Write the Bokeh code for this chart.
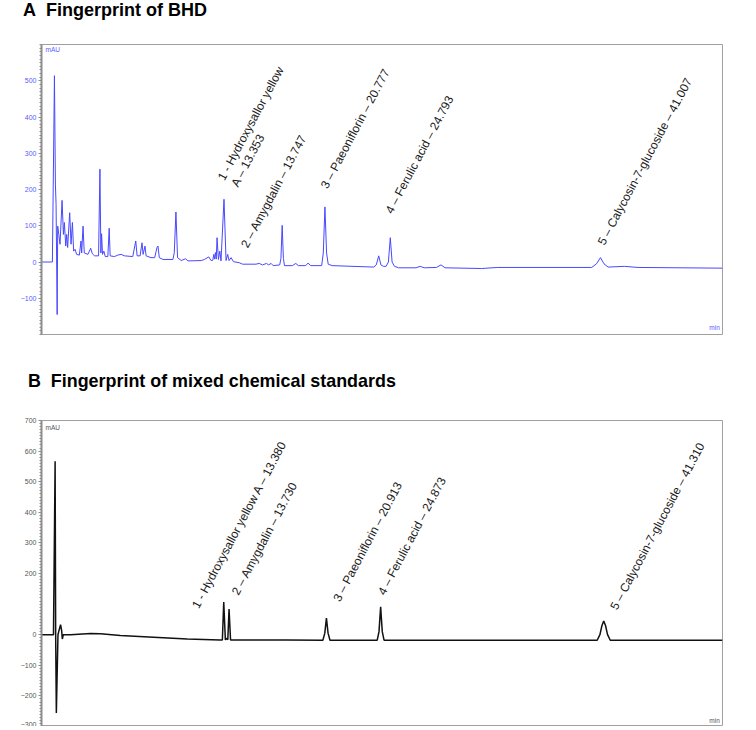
from bokeh.plotting import figure
from bokeh.layouts import column
from bokeh.models import FixedTicker, Range1d, ColumnDataSource, Div
from bokeh.core.properties import value
from bokeh.embed import file_html
from bokeh.resources import INLINE

# ---------------- data: chromatogram A (BHD sample) ----------------
top_time = [0, 0.80, 0.95, 1.02, 1.07, 1.15, 1.19, 1.27, 1.36, 1.51, 1.61, 1.68, 1.78, 1.85,
            1.92, 2.07, 2.17, 2.27, 2.36, 2.46, 2.58, 2.78, 2.90, 2.95, 3.05, 3.14, 3.41, 3.61,
            3.73, 3.90, 4.19, 4.29, 4.36, 4.41, 4.48, 4.58, 4.68, 4.87, 4.97, 5.04, 5.36, 5.60,
            5.85, 6.09, 6.70, 6.92, 7.02, 7.24, 7.38, 7.46, 7.60, 7.68, 8.04, 8.31, 8.48, 8.55,
            8.65, 8.92, 9.65, 9.75, 9.87, 9.99, 10.26, 10.58, 10.75, 11.72, 11.96, 12.28, 12.45,
            12.58, 12.65, 12.71, 12.77, 12.83, 12.89, 12.99, 13.09, 13.18, 13.40, 13.55, 13.67,
            13.77, 13.92, 14.09, 14.52, 14.77, 15.74, 15.98, 16.23, 16.52, 16.67, 16.86, 17.01,
            17.49, 17.58, 17.67, 17.76, 17.84, 18.42, 18.67, 18.86, 19.40, 19.57, 19.77, 20.57,
            20.69, 20.81, 20.93, 21.05, 21.34, 24.40, 24.58, 24.76, 24.92, 25.10, 25.30, 25.47,
            25.61, 25.74, 25.92, 26.22, 27.50, 27.80, 28.10, 29.00, 29.33, 29.63, 32.30, 33.50,
            40.40, 40.75, 41.04, 41.30, 41.60, 42.80, 43.80, 50.0]
top_mau = [0, 0, 514, 215, 159, -145, 99, 76, 49, 170, 76, 109, 44, 76,
           40, 136, 49, 109, 30, 35, 21, 19, 58, 25, 99, 25, 21, 38,
           23, 17, 17, 256, 25, 78, 21, 30, 15, 15, 93, 17, 15, 19,
           21, 17, 15, 58, 17, 17, 53, 21, 44, 17, 12, 12, 40, 44,
           12, 7, 7, 26, 138, 12, 4, 9, 3, 4, 7, 14, 4,
           5, 21, 8, 26, 8, 67, 7, 30, 3, 173, 4, 21,
           4, 12, 1, -2, -6, -6, -4, -8, -4, -8, -4, -10,
           -8, 10, 101, 10, -10, -10, -4, -10, -10, -3, -10, -10,
           25, 152, 25, -6, -10, -14, -8, 17, -8, -12, -12, 0,
           67, 0, -12, -16, -16, -12, -16, -15, -8, -16, -18, -15,
           -15, -5, 12, -5, -14, -12, -15, -17]

top_ticks = [-100, 0, 100, 200, 300, 400, 500]
top_labels = ["1 - Hydroxysallor yellow", "A \u2013 13.353", "2 \u2013 Amygdalin \u2013 13.747",
              "3 \u2013 Paeoniflorin \u2013 20.777", "4 \u2013 Ferulic acid \u2013 24.793",
              "5 \u2013 Calycosin-7-glucoside \u2013 41.007"]
top_label_t = [13.18, 14.16, 14.89, 20.74, 25.49, 41.08]
top_label_v = [228, 210, 42, 205, 136, 49]

# ---------------- data: chromatogram B (mixed standards) ----------------
bot_time = [0, 0.88, 1.00, 1.04, 1.09, 1.21, 1.31, 1.40, 1.48, 1.53, 1.60, 2.13, 3.6, 4.33,
            5.79, 8.23, 10.7, 13.1, 13.28, 13.38, 13.50, 13.58, 13.68, 13.77, 13.88, 14.2, 18.0,
            20.66, 20.80, 20.92, 21.04, 21.18, 22.0, 24.65, 24.78, 24.90, 25.02, 25.15, 30.0,
            40.80, 41.00, 41.15, 41.28, 41.41, 41.56, 41.76, 45.0, 50.0]
bot_mau = [0, 0, 567, 0, -256, 0, 18, 33, 13, -14, 0, 0, 4, 3,
           -3, -8, -14, -17, -17, 107, -17, -12, -16, 84, -17, -17, -17,
           -18, 5, 54, 5, -18, -18, -18, 10, 91, 10, -18, -18,
           -18, 0, 30, 45, 30, 0, -18, -18, -18]

bot_ticks = [-300, -200, -100, 0, 200, 300, 400, 500, 600, 700]
bot_labels = ["1 - Hydroxysallor yellow A \u2013 13.380", "2 \u2013 Amygdalin \u2013 13.730",
              "3 \u2013 Paeoniflorin \u2013 20.913", "4 \u2013 Ferulic acid \u2013 24.873",
              "5 \u2013 Calycosin-7-glucoside \u2013 41.310"]
bot_label_t = [11.29, 14.21, 21.65, 24.94, 42.0]
bot_label_v = [89, 133, 111, 133, 84]

title_a = "A&nbsp; Fingerprint of BHD"
title_b = "B&nbsp; Fingerprint of mixed chemical standards"

FONT = "Liberation Sans"


def make_title(text, size, pad_left, pad_top, height):
    html = ('<div style="font-family:\'Liberation Sans\',Arial,sans-serif;font-weight:bold;'
            'font-size:%s;line-height:20px;color:#000;white-space:nowrap;'
            'padding-left:%dpx;padding-top:%dpx;">%s</div>' % (size, pad_left, pad_top, text))
    return Div(text=html, width=748, height=height, margin=0)


def make_fig(height, b_top, b_bottom, b_left, b_right, yrange, ticks, minor, tick_color,
             line_color, line_width, t, v, lt, lv, ltext, unit_v, min_v):
    p = figure(width=748, height=height, output_backend="svg", toolbar_location=None,
               x_range=Range1d(0, 50), y_range=Range1d(*yrange),
               min_border_top=b_top, min_border_bottom=b_bottom,
               min_border_left=b_left, min_border_right=b_right, margin=0)
    p.xaxis.visible = False
    p.xgrid.visible = False
    p.ygrid.visible = False
    p.outline_line_color = "#a0a0a0"
    p.outline_line_width = 1
    ax = p.yaxis[0]
    ax.ticker = FixedTicker(ticks=ticks, minor_ticks=minor)
    ax.axis_line_color = "#8c8c8c"
    ax.axis_line_width = 2
    ax.major_tick_line_color = "#8c8c8c"
    ax.minor_tick_line_color = "#8c8c8c"
    ax.major_tick_out = 3
    ax.major_tick_in = 0
    ax.minor_tick_out = 2
    ax.minor_tick_in = 0
    ax.major_label_standoff = 2
    ax.major_label_text_font = FONT
    ax.major_label_text_font_size = "7px"
    ax.major_label_text_color = tick_color
    p.line(t, v, line_color=line_color, line_width=line_width)
    src = ColumnDataSource(dict(x=lt, y=lv, text=ltext))
    p.text(x="x", y="y", text="text", source=src, angle=62, angle_units="deg",
           text_font=value(FONT), text_font_size="12px", text_color="#1a1a1a",
           text_align="left", text_baseline="alphabetic")
    p.text(x=[0.3], y=[unit_v], text=["mAU"], text_font=value(FONT), text_font_size="6.5px",
           text_color=tick_color, text_align="left", text_baseline="middle")
    p.text(x=[49.8], y=[min_v], text=["min"], text_font=value(FONT), text_font_size="6.5px",
           text_color=tick_color, text_align="right", text_baseline="middle")
    return p


d1 = make_title(title_a, "18px", 23, 0, 30)
p1 = make_fig(322, 14, 18, 38, 26, (-200, 600), top_ticks, list(range(-200, 601, 10)),
              "#5a5aff", "#4848ff", 1.0, top_time, top_mau, top_label_t, top_label_v,
              top_labels, 585, -182)
d2 = make_title(title_b, "17.9px", 28, 19, 48)
p2 = make_fig(326, 20, 0, 41, 24, (-300, 700), bot_ticks, list(range(-300, 701, 10)),
              "#555555", "#111111", 1.5, bot_time, bot_mau, bot_label_t, bot_label_v,
              bot_labels, 676, -282)

layout = column(d1, p1, d2, p2, spacing=0)
open("out.html", "w").write(file_html(layout, INLINE))
